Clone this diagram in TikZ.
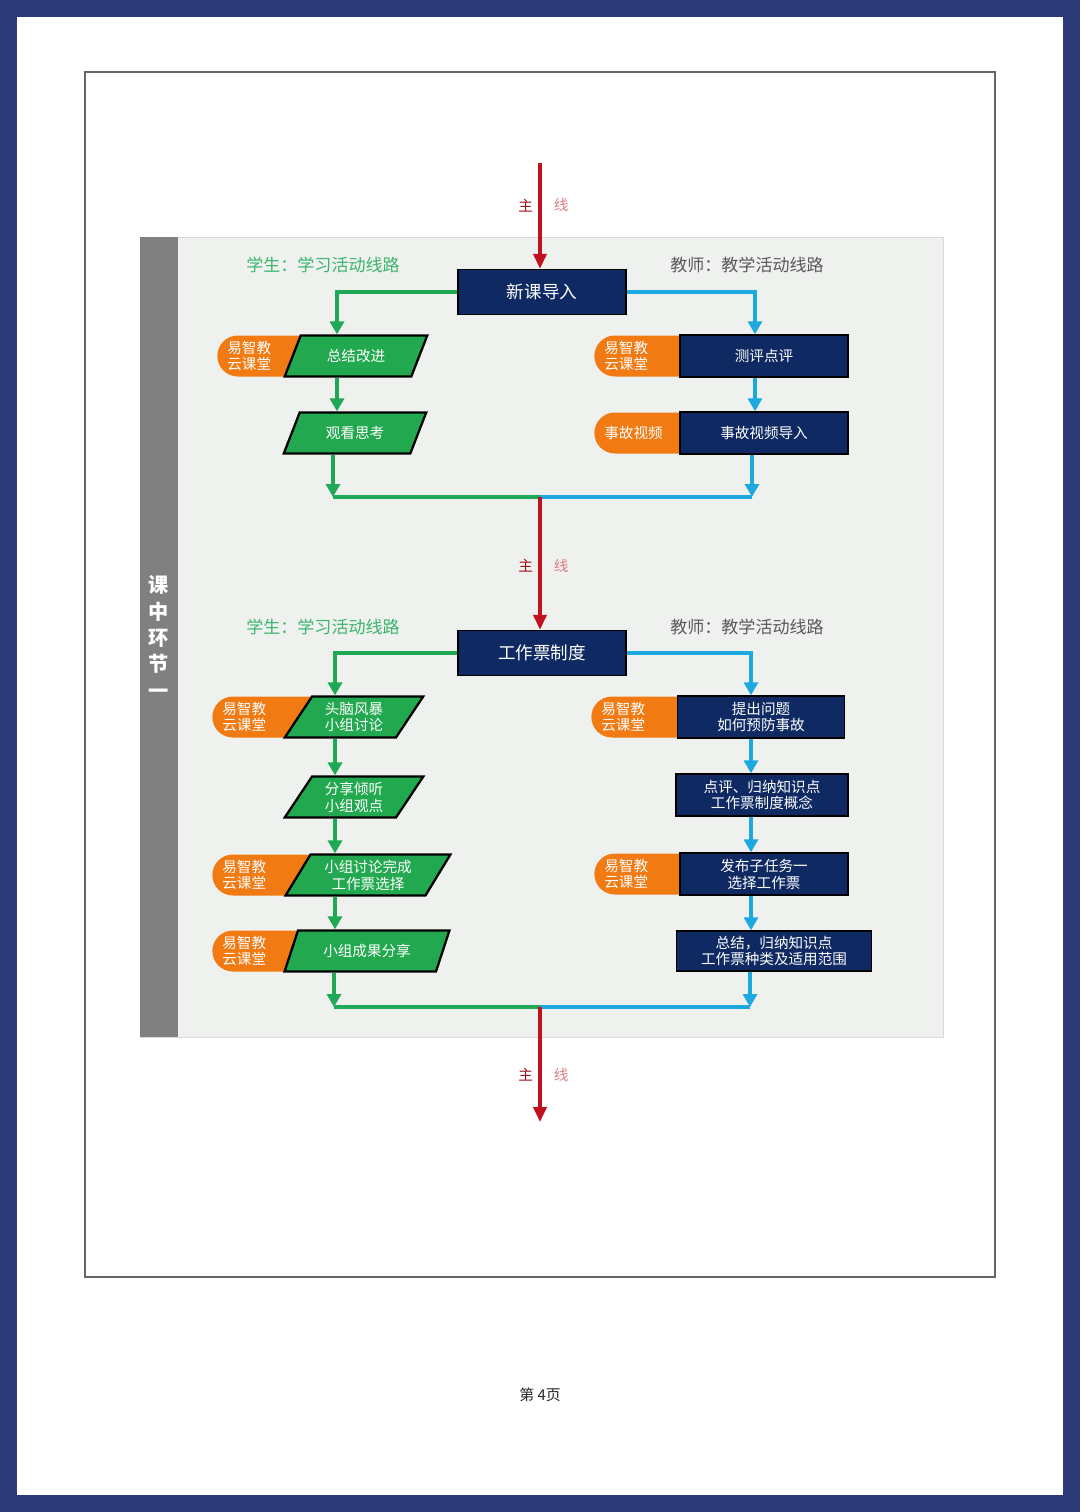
\documentclass[tikz,border=0pt]{standalone}
\usepackage{fontspec}
\setmainfont{Noto Sans CJK SC}
\usepackage{tikz}
\usetikzlibrary{shapes.geometric, arrows.meta, positioning}

\definecolor{pagenavy}{HTML}{2C3B78}
\definecolor{boxnavy}{HTML}{0F2A62}
\definecolor{flowgreen}{HTML}{1FA855}
\definecolor{boxgreen}{HTML}{22A94F}
\definecolor{flowblue}{HTML}{1DA9DF}
\definecolor{pillorange}{HTML}{F27A12}
\definecolor{mainred}{HTML}{C0121F}
\definecolor{panelgray}{HTML}{EFF1EF}
\definecolor{stripgray}{HTML}{808080}
\definecolor{lanegreen}{HTML}{3AB56C}

\begin{document}
\begin{tikzpicture}[
    x=0.02cm, y=-0.02cm,
    every node/.style={inner sep=0pt},
    navybox/.style={rectangle, draw=black, line width=0.8pt, fill=boxnavy, text=white, align=center, minimum width=3.36cm, minimum height=0.84cm, font=\fontsize{8.3}{9.6}\selectfont},
    titlebox/.style={navybox, minimum height=0.9cm, font=\fontsize{10}{12}\selectfont},
    parabox/.style={trapezium, trapezium left angle=58, trapezium right angle=122, trapezium stretches=true, draw=black, line width=1.3pt, fill=boxgreen, text=white, align=center, minimum width=2.86cm, minimum height=0.82cm, font=\fontsize{8.3}{9.6}\selectfont},
    pill/.style={rectangle, fill=pillorange, rounded corners=0.41cm, text=white, align=left, text width=2.2cm, inner xsep=0.2cm, minimum height=0.82cm, font=\fontsize{8.3}{9.6}\selectfont},
    lane/.style={font=\fontsize{9.7}{11}\selectfont},
    flowg/.style={draw=flowgreen, line width=2.4pt, -{Triangle[length=0.26cm, width=0.28cm]}},
    flowb/.style={flowg, draw=flowblue},
    mainline/.style={draw=mainred, line width=2.2pt, -{Triangle[length=0.3cm, width=0.26cm]}},
    zhu/.style={font=\fontsize{8.3}{9}\selectfont, inner sep=0.1cm},
    xian/.style={zhu, inner sep=0.24cm}
]
\useasboundingbox (0,0) rectangle (1080,1512);
\fill[pagenavy] (0,0) rectangle (1080,1512);
\fill[white] (17,17) rectangle (1063,1495);
\draw[black!60, line width=0.6pt] (85,72) rectangle (995,1277);
\draw[black!15, fill=panelgray] (140,237) rectangle (943,1037);
\fill[stripgray] (140,237) rectangle (178,1037);
\node[font=\bfseries\fontsize{11.5}{15}\selectfont, text=white, align=center] (kzhj) at (159,637) {课\\中\\环\\节\\一};
\node[font=\fontsize{8.5}{10}\selectfont, text=black!85] (yema) at (540,1395) {第 4页};

\coordinate (colL1) at (337,0);
\coordinate (colR1) at (755,0);
\coordinate (colL2) at (335,0);
\coordinate (colR2) at (751,0);
\coordinate (mainA) at (540,163);
\coordinate (mgL1) at (333,497);
\coordinate (mgC1) at (540,497);
\coordinate (mgR1) at (752,497);
\coordinate (mgL2) at (334,1007);
\coordinate (mgC2) at (540,1007);
\coordinate (mgR2) at (750,1007);
\coordinate (mainZ) at (540,1122);

\node[titlebox] (xinke) at (542,292) {新课导入};
\node[lane, text=lanegreen] (stuA) at (323,265) {学生：学习活动线路};
\node[lane, text=black!65] (teaA) at (747,265) {教师：教学活动线路};
\node[pill, anchor=west] (yzjA1) at (217,356) {易智教\\云课堂};
\node[parabox] (zjgj) at (356,356) {总结改进};
\node[parabox] (gksk) at (355,433) {观看思考};
\node[pill, anchor=west] (yzjB1) at (594,356) {易智教\\云课堂};
\node[navybox] (cpdp) at (764,356) {测评点评};
\node[pill, anchor=west] (sgspB) at (594,433) {事故视频};
\node[navybox] (sgsp) at (764,433) {事故视频导入};

\node[titlebox] (gzpzd) at (542,653) {工作票制度};
\node[lane, text=lanegreen] (stuB) at (323,627) {学生：学习活动线路};
\node[lane, text=black!65] (teaB) at (747,627) {教师：教学活动线路};
\node[pill, anchor=west] (yzjA2) at (212,717) {易智教\\云课堂};
\node[parabox, minimum width=2.78cm] (tnfb) at (354,717) {头脑风暴\\小组讨论};
\node[parabox, minimum width=2.78cm] (fxqt) at (354,797) {分享倾听\\小组观点};
\node[pill, anchor=west] (yzjA3) at (212,875) {易智教\\云课堂};
\node[parabox, minimum width=3.32cm] (xztl) at (368,875) {小组讨论完成\\工作票选择};
\node[pill, anchor=west] (yzjA4) at (212,951) {易智教\\云课堂};
\node[parabox, minimum width=3.3cm] (xzcg) at (367,951) {小组成果分享};
\node[pill, anchor=west] (yzjB2) at (591,717) {易智教\\云课堂};
\node[navybox, minimum width=3.34cm] (tcwt) at (761,717) {提出问题\\如何预防事故};
\node[navybox, minimum width=3.44cm] (dpgn) at (762,795) {点评、归纳知识点\\工作票制度概念};
\node[pill, anchor=west] (yzjB3) at (594,874) {易智教\\云课堂};
\node[navybox] (fbrw) at (764,874) {发布子任务一\\选择工作票};
\node[navybox, minimum width=3.9cm, minimum height=0.8cm] (zjzl) at (774,951) {总结，归纳知识点\\工作票种类及适用范围};

\draw[mainline] (mainA) -- node[zhu, pos=0.4, left, text=mainred!85!black] {主} node[xian, pos=0.4, right, text=mainred!55] {线} (xinke.north -| mainA);
\draw[flowg] (xinke.west) -| (zjgj.north -| colL1);
\draw[flowb] (xinke.east) -| (cpdp.north -| colR1);
\draw[flowg] (zjgj.south -| colL1) -- (gksk.north -| colL1);
\draw[flowb] (cpdp.south -| colR1) -- (sgsp.north -| colR1);
\draw[flowg, -] (mgL1) -- (mgC1);
\draw[flowb, -] (mgC1) -- (mgR1);
\draw[flowg] (gksk.south -| mgL1) -- (mgL1);
\draw[flowb] (sgsp.south -| mgR1) -- (mgR1);

\draw[mainline] (mgC1) -- node[zhu, pos=0.52, left, text=mainred!85!black] {主} node[xian, pos=0.52, right, text=mainred!55] {线} (gzpzd.north -| mgC1);
\draw[flowg] (gzpzd.west) -| (tnfb.north -| colL2);
\draw[flowb] (gzpzd.east) -| (tcwt.north -| colR2);
\draw[flowg] (tnfb.south -| colL2) -- (fxqt.north -| colL2);
\draw[flowg] (fxqt.south -| colL2) -- (xztl.north -| colL2);
\draw[flowg] (xztl.south -| colL2) -- (xzcg.north -| colL2);
\draw[flowb] (tcwt.south -| colR2) -- (dpgn.north -| colR2);
\draw[flowb] (dpgn.south -| colR2) -- (fbrw.north -| colR2);
\draw[flowb] (fbrw.south -| colR2) -- (zjzl.north -| colR2);
\draw[flowg, -] (mgL2) -- (mgC2);
\draw[flowb, -] (mgC2) -- (mgR2);
\draw[flowg] (xzcg.south -| mgL2) -- (mgL2);
\draw[flowb] (zjzl.south -| mgR2) -- (mgR2);
\draw[mainline] (mgC2) -- node[zhu, pos=0.59, left, text=mainred!85!black] {主} node[xian, pos=0.59, right, text=mainred!55] {线} (mainZ);
\end{tikzpicture}
\end{document}
